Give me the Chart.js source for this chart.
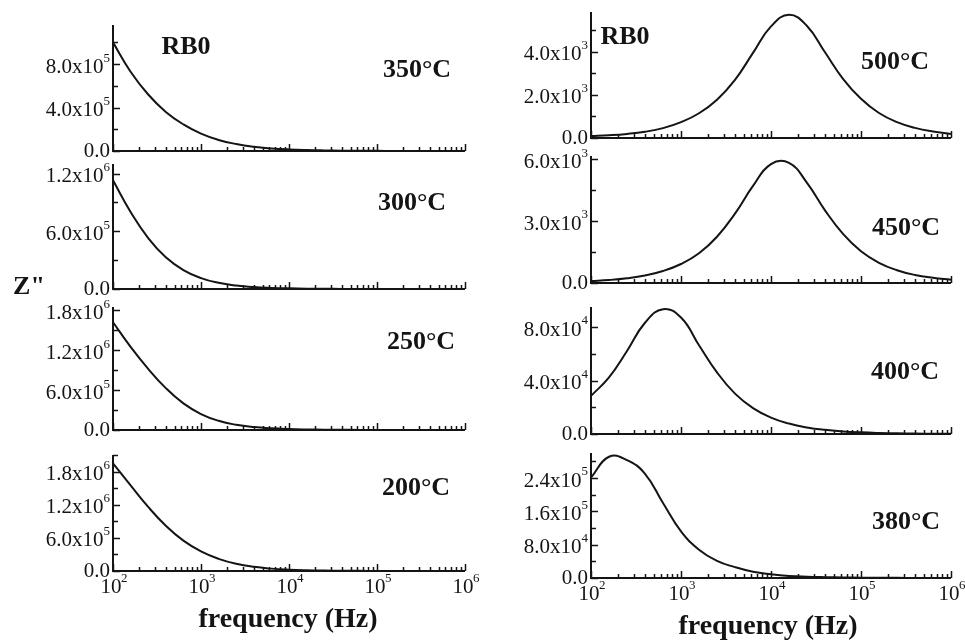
<!DOCTYPE html>
<html>
<head>
<meta charset="utf-8">
<script src="https://cdn.jsdelivr.net/npm/chart.js@4.4.0/dist/chart.umd.min.js"></script>
<style>
  html, body { margin: 0; padding: 0; background: #fff; }
  #wrap { position: relative; width: 965px; height: 641px; overflow: hidden; }
  #wrap canvas { position: absolute; left: 0; top: 0; }
</style>
</head>
<body>
<div id="wrap"></div>
<script>
// frequency grid (Hz), 0.2 decade steps from 10^2 to 10^6
const freqHz = [100, 158.5, 251.2, 398.1, 631, 1000, 1585, 2512, 3981, 6310,
    10000, 15849, 25119, 39811, 63096, 100000, 158489, 251189, 398107, 630957, 1000000];

// Z'' (ohm) at each frequency, left column
const z350 = [1.0e6, 7.3e5, 5.2e5, 3.6e5, 2.45e5, 1.6e5, 1.02e5, 6.4e4, 3.9e4, 2.4e4,
    1.45e4, 8800, 5400, 3300, 2000, 1250, 780, 490, 310, 195, 125];
const z300 = [1.13e6, 8.0e5, 5.3e5, 3.3e5, 1.97e5, 1.13e5, 6.4e4, 3.6e4, 2.0e4, 1.15e4,
    6600, 3800, 2200, 1300, 780, 470, 290, 180, 110, 70, 45];
const z250 = [1.62e6, 1.25e6, 9.2e5, 6.3e5, 4.0e5, 2.4e5, 1.38e5, 7.8e4, 4.4e4, 2.5e4,
    1.45e4, 8500, 5000, 3000, 1800, 1100, 680, 420, 260, 165, 105];
const z200 = [1.95e6, 1.55e6, 1.16e6, 8.2e5, 5.5e5, 3.55e5, 2.2e5, 1.3e5, 7.5e4, 4.3e4,
    2.45e4, 1.4e4, 8200, 4900, 2900, 1750, 1050, 650, 400, 250, 160];

// right column
const z500 = [95, 130, 190, 290, 460, 740, 1150, 1780, 2700, 3950,
    5180, 5720, 5200, 3980, 2750, 1820, 1160, 740, 470, 300, 190];
const z450 = [95, 145, 230, 365, 580, 920, 1440, 2240, 3360, 4700,
    5760, 5820, 4850, 3520, 2380, 1540, 980, 620, 390, 250, 155];
const z400 = [28500, 42300, 62100, 83200, 93400, 87100, 66400, 46100, 30200, 19400,
    12300, 7800, 4900, 3100, 1960, 1240, 780, 490, 310, 200, 120];
const z380 = [241000, 291000, 283000, 250000, 180000, 112000, 68000, 41000, 26000, 15000,
    9000, 5000, 3100, 2000, 1300, 800, 500, 320, 200, 130, 80];

const temps = ["350°C", "300°C", "250°C", "200°C", "500°C", "450°C", "400°C", "380°C"];
const xTickExp = [2, 3, 4, 5, 6];

const W = 965, H = 641;
const SERIF = '"Liberation Serif", "Times New Roman", serif';
const INK = "#141414";

// panel frames: plot box, y range, tick steps, label spot
const panels = [
    { z: z350, t: temps[0], L: 113, R: 465, T: 25, B: 151, ymax: 1.16e6, major: 4e5, minor: 2e5, tx: 417, ty: 70, rb0: [186, 47] },
    { z: z300, t: temps[1], L: 113, R: 465, T: 164, B: 289, ymax: 1.3e6, major: 6e5, minor: 3e5, tx: 412, ty: 203 },
    { z: z250, t: temps[2], L: 113, R: 465, T: 307, B: 430, ymax: 1.85e6, major: 6e5, minor: 3e5, tx: 421, ty: 342 },
    { z: z200, t: temps[3], L: 113, R: 465, T: 455, B: 571, ymax: 2.1e6, major: 6e5, minor: 3e5, tx: 416, ty: 488, xlab: [288, 620] },
    { z: z500, t: temps[4], L: 591, R: 951, T: 12, B: 138, ymax: 5.85e3, major: 2e3, minor: 1e3, tx: 895, ty: 62, rb0: [625, 37] },
    { z: z450, t: temps[5], L: 591, R: 951, T: 156, B: 283, ymax: 6.15e3, major: 3e3, minor: 1.5e3, tx: 906, ty: 228 },
    { z: z400, t: temps[6], L: 591, R: 951, T: 307, B: 434, ymax: 9.5e4, major: 4e4, minor: 2e4, tx: 905, ty: 372 },
    { z: z380, t: temps[7], L: 591, R: 951, T: 453, B: 578, ymax: 3.0e5, major: 8e4, minor: 4e4, tx: 906, ty: 522, xlab: [768, 627] }
];

// "a.bx10^n" with a raised exponent, right aligned at x
function drawSci(ctx, v, x, y) {
    if (v === 0) {
        ctx.font = `21px ${SERIF}`;
        ctx.textAlign = "right";
        ctx.textBaseline = "middle";
        ctx.fillText("0.0", x, y);
        return;
    }
    let e = Math.floor(Math.log10(v) + 1e-9);
    let m = (v / Math.pow(10, e)).toFixed(1);
    ctx.font = `13px ${SERIF}`;
    let sw = ctx.measureText(String(e)).width;
    ctx.textAlign = "left";
    ctx.textBaseline = "middle";
    ctx.fillText(String(e), x - sw, y - 6);
    ctx.font = `21px ${SERIF}`;
    ctx.textAlign = "right";
    ctx.fillText(m + "x10", x - sw, y + 3);
}

const framePlugin = {
    id: "frame",
    afterDraw(chart, args, p) {
        const ctx = chart.ctx;
        const xs = chart.scales.x, ys = chart.scales.y;
        const a = chart.chartArea;
        ctx.save();
        ctx.strokeStyle = INK;
        ctx.fillStyle = INK;

        // axes
        ctx.lineWidth = 2;
        ctx.beginPath();
        ctx.moveTo(a.left, a.top);
        ctx.lineTo(a.left, a.bottom);
        ctx.lineTo(a.right, a.bottom);
        ctx.stroke();

        // x ticks, pointing in
        ctx.lineWidth = 1.5;
        ctx.beginPath();
        for (let d = 2; d <= 6; d++) {
            for (let k = 1; k <= 9; k++) {
                if (d === 6 && k > 1) break;
                let px = Math.round(xs.getPixelForValue(k * Math.pow(10, d))) + 0.5;
                let len = k === 1 ? 7 : 4;
                ctx.moveTo(px, a.bottom);
                ctx.lineTo(px, a.bottom - len);
            }
        }
        // y ticks
        for (let i = 0; i * p.minor <= ys.max + 1e-6; i++) {
            let v = i * p.minor;
            let py = Math.round(ys.getPixelForValue(v)) + 0.5;
            let len = (Math.abs(v / p.major - Math.round(v / p.major)) < 1e-6) ? 7 : 5;
            ctx.moveTo(a.left, py);
            ctx.lineTo(a.left + len, py);
        }
        ctx.stroke();

        // y labels
        for (let i = 0; i * p.major <= ys.max + 1e-6; i++) {
            drawSci(ctx, i * p.major, a.left - 3, ys.getPixelForValue(i * p.major));
        }

        // x labels under the bottom panels
        if (p.xlab) {
            xTickExp.forEach(n => {
                let px = xs.getPixelForValue(Math.pow(10, n));
                ctx.font = `21px ${SERIF}`;
                ctx.textAlign = "center";
                ctx.textBaseline = "middle";
                ctx.fillText("10", px - 2, a.bottom + 16);
                ctx.font = `13px ${SERIF}`;
                ctx.textAlign = "left";
                ctx.fillText(String(n), px + 8, a.bottom + 8);
            });
            ctx.font = `bold 28px ${SERIF}`;
            ctx.textAlign = "center";
            ctx.textBaseline = "middle";
            ctx.fillText("frequency (Hz)", p.xlab[0], p.xlab[1]);
        }

        // temperature and sample tags
        ctx.font = `bold 26px ${SERIF}`;
        ctx.textAlign = "center";
        ctx.textBaseline = "middle";
        ctx.fillText(p.t, p.tx, p.ty);
        if (p.rb0) ctx.fillText("RB0", p.rb0[0], p.rb0[1]);
        if (p.zlab) ctx.fillText('Z"', p.zlab[0], p.zlab[1]);
        ctx.restore();
    }
};

window.addEventListener("load", () => {
    const wrap = document.getElementById("wrap");
    panels[1].zlab = [29, 287];

    panels.forEach(p => {
        let cv = document.createElement("canvas");
        cv.width = W;
        cv.height = H;
        wrap.appendChild(cv);

        new Chart(cv.getContext("2d"), {
            type: "line",
            data: {
                datasets: [{
                    data: freqHz.map((f, i) => ({ x: f, y: p.z[i] })),
                    borderColor: INK,
                    borderWidth: 2,
                    pointRadius: 0,
                    fill: false,
                    tension: 0.45,
                    clip: 4
                }]
            },
            options: {
                responsive: false,
                animation: false,
                events: [],
                layout: { padding: { left: p.L, right: W - p.R, top: p.T, bottom: H - p.B } },
                plugins: { legend: { display: false }, tooltip: { enabled: false }, frame: p },
                scales: {
                    x: { type: "logarithmic", min: 100, max: 1e6, display: false },
                    y: { type: "linear", min: 0, max: p.ymax, display: false }
                }
            },
            plugins: [framePlugin]
        });
    });
});
</script>
</body>
</html>
